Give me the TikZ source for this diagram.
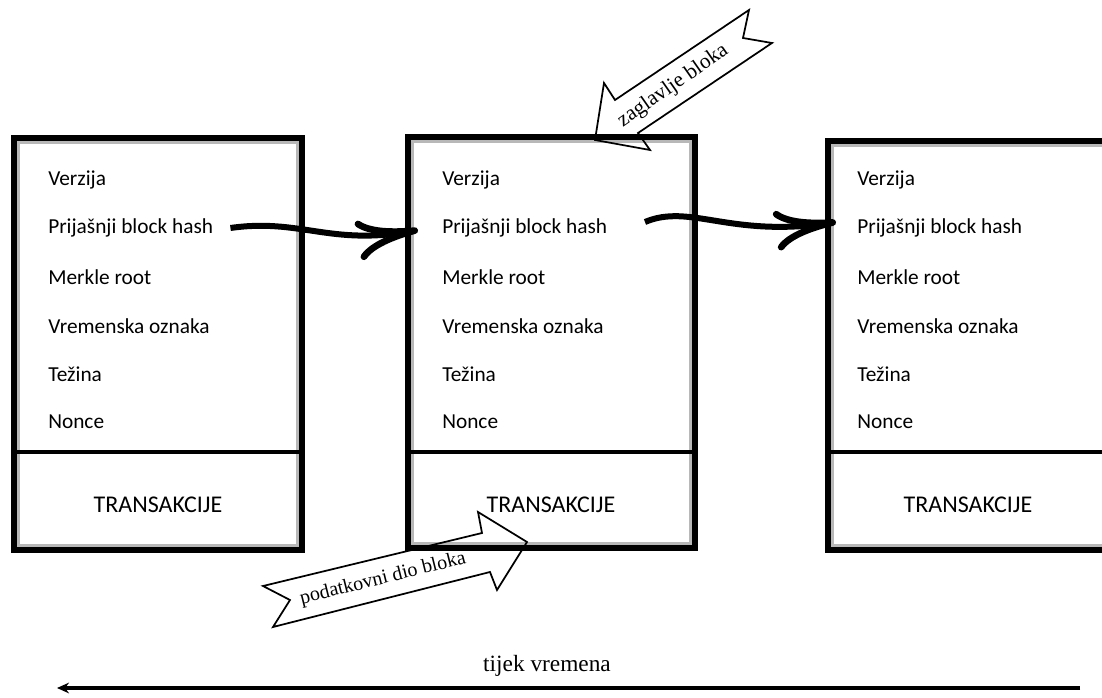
\documentclass[tikz,border=0pt]{standalone}
\usepackage{fontspec}
\setmainfont{Liberation Serif}
\newfontfamily\poljefont{Carlito}
\usetikzlibrary{arrows.meta}

\begin{document}
\begin{tikzpicture}[x=0.75pt,y=0.75pt,yscale=-1,xscale=1,
  okvir/.style={line width=4.4pt},
  rub/.style={draw=black!28,line width=1.6pt},
  razdjel/.style={line width=3pt},
  polje/.style={anchor=west,inner sep=0.75pt,font=\poljefont\fontsize{16}{19}\selectfont},
  lanac/.style={line width=4.5pt,-{Computer Modern Rightarrow[length=46pt,width=30pt,line width=5pt]}},
  strelica/.style={line width=1.3pt,line join=miter},
  oznaka/.style={inner sep=0.75pt,font=\fontsize{15}{17}\selectfont}]
\clip (0,0) rectangle (1102,698);

% blokovi
\foreach \i/\xl/\xr/\yt/\yb/\xt/\xc in {1/14/302/138/550/47/158, 2/408/695/137/548/441/551, 3/828/1130/141/550/856/968}{
  \draw[okvir] (\xl,\yt) rectangle (\xr,\yb);
  \draw[rub] (\xl+4.5,\yt+4.5) rectangle (\xr-4.5,\yb-4.5);
  \draw[razdjel] (\xl,452) -- (\xr,452);
  \node[polje] (v\i) at (\xt,180) {Verzija};
  \node[polje] (p\i) at (\xt,228) {Prijašnji block hash};
  \node[polje] (m\i) at (\xt,277) {Merkle root};
  \node[polje] (o\i) at (\xt,326) {Vremenska oznaka};
  \node[polje] (t\i) at (\xt,374) {Težina};
  \node[polje] (n\i) at (\xt,422) {Nonce};
  \node[polje,anchor=center,font=\poljefont\fontsize{18}{20}\selectfont] (tr\i) at (\xc,505) {TRANSAKCIJE};
}

% veze izmedju blokova
\coordinate (u2) at (418,230);
\draw[lanac] ([xshift=12pt]p1.east) .. controls (300,218) and (330,246) .. (u2);
\coordinate (a2) at (645,222);
\coordinate (u3) at (836,222);
\draw[lanac] (a2) .. controls (690,203) and (730,238) .. (u3);

% zaglavlje
\draw[strelica] (749,10) -- (615,100) -- (604,83) -- (595,140) -- (650,150) -- (638,133) -- (772,43) -- (743,38) -- cycle;
\node[oznaka,rotate=35,font=\fontsize{16}{18}\selectfont] (zag) at (673,86) {zaglavlje bloka};

% podatkovni dio
\draw[strelica] (263,586) -- (482,533) -- (478,512) -- (527,542) -- (497,590) -- (490,572) -- (273,627) -- (290,600) -- cycle;
\node[oznaka,rotate=14] (pod) at (383,579) {podatkovni dio bloka};

% vrijeme
\coordinate (tk) at (1080,688);
\coordinate (tp) at (57,688);
\draw[line width=2.6pt,-{Stealth[length=9pt,width=8pt]}] (tk) -- (tp);
\node[oznaka,font=\fontsize{17.5}{19}\selectfont] (tijek) at (547,666) {tijek vremena};

\end{tikzpicture}
\end{document}
